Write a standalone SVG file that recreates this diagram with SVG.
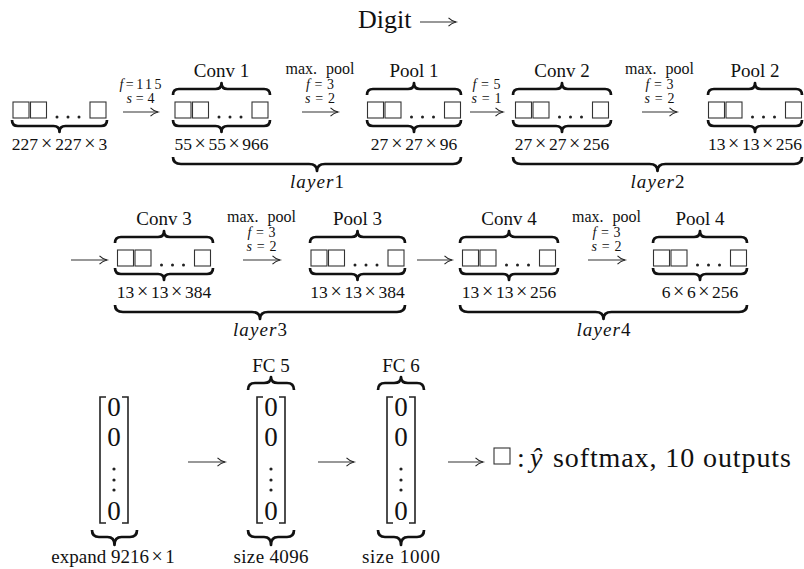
<svg xmlns="http://www.w3.org/2000/svg" xmlns:xlink="http://www.w3.org/1999/xlink" width="804" height="569" viewBox="0 0 804 569">
<style>
.t{font-family:"Liberation Serif","Times New Roman",serif;fill:#111}
.mid{text-anchor:middle}
.big{font-size:27px}
.lbl{font-size:19px}
.dim{font-size:17.5px}
.x{font-size:20px}
.sm{font-size:14px}
.mp{font-size:16px}
.it{font-style:italic}
.up{font-style:normal}
.br{fill:none;stroke:#111;stroke-width:2.7;stroke-linejoin:round;stroke-linecap:butt}
.sq{fill:none;stroke:#333;stroke-width:1.1}
.dot{fill:#222}
.bk{fill:none;stroke:#222;stroke-width:1.6}
.ar{fill:none;stroke:#333;stroke-width:1.1;marker-end:url(#ah)}
</style>
<defs>
<marker id="ah" markerUnits="userSpaceOnUse" viewBox="-9 -6 10 12" refX="0" refY="0" markerWidth="10" markerHeight="12" orient="auto" overflow="visible">
<path d="M-7.5,-4.2 C-4.5,-1.2 -1.5,-0.4 0,0 C-1.5,0.4 -4.5,1.2 -7.5,4.2" fill="none" stroke="#222" stroke-width="1.1"/>
</marker>
<g id="sq">
<rect class="sq" x="0" y="0" width="16" height="16"/>
<rect class="sq" x="17.5" y="0" width="16" height="16"/>
<circle class="dot" cx="44" cy="15" r="1.5"/>
<circle class="dot" cx="55" cy="15" r="1.5"/>
<circle class="dot" cx="66" cy="15" r="1.5"/>
<rect class="sq" x="77" y="0" width="16" height="16"/>
</g>
<g id="vec">
<path class="bk" d="M6,0 H0 V126 H6 M22,0 H28 V126 H22"/>
<circle class="dot" cx="14" cy="72" r="1.6"/>
<circle class="dot" cx="14" cy="83" r="1.6"/>
<circle class="dot" cx="14" cy="93" r="1.6"/>
</g>
</defs>
<rect width="804" height="569" fill="#fff"/>

<g id="title">
<text class="t" x="358" y="28" style="font-size:26px">Digit</text>
</g>

<!-- Row 1 -->
<g id="input">
<use href="#sq" x="13" y="102"/>
<path class="br" d="M12,120 Q12,126 18,126 H53.5 Q59.5,126 59.5,132 Q59.5,126 65.5,126 H101 Q107,126 107,120"/>
<text class="t dim mid" x="59.5" y="150">227<tspan class="x" dx="2.9">×</tspan><tspan dx="2.9">227</tspan><tspan class="x" dx="2.9">×</tspan><tspan dx="2.9">3</tspan></text>
</g>
<g id="conv1">
<text class="t lbl mid" x="221.5" y="77">Conv 1</text>
<path class="br" d="M173,95 Q173,89 179,89 H215.5 Q221.5,89 221.5,83 Q221.5,89 227.5,89 H264 Q270,89 270,95"/>
<use href="#sq" x="175" y="102"/>
<path class="br" d="M173,120 Q173,126 179,126 H215.5 Q221.5,126 221.5,132 Q221.5,126 227.5,126 H264 Q270,126 270,120"/>
<text class="t dim mid" x="221.5" y="150">55<tspan class="x" dx="2.5">×</tspan><tspan dx="2.5">55</tspan><tspan class="x" dx="2.5">×</tspan><tspan dx="2.5">966</tspan></text>
</g>
<g id="pool1">
<text class="t lbl mid" x="414" y="77">Pool 1</text>
<path class="br" d="M367,95 Q367,89 373,89 H408 Q414,89 414,83 Q414,89 420,89 H455 Q461,89 461,95"/>
<use href="#sq" x="367.5" y="102"/>
<path class="br" d="M367,120 Q367,126 373,126 H408 Q414,126 414,132 Q414,126 420,126 H455 Q461,126 461,120"/>
<text class="t dim mid" x="414" y="150">27<tspan class="x" dx="2.8">×</tspan><tspan dx="2.8">27</tspan><tspan class="x" dx="2.8">×</tspan><tspan dx="2.8">96</tspan></text>
</g>
<g id="conv2">
<text class="t lbl mid" x="562" y="77">Conv 2</text>
<path class="br" d="M513,95 Q513,89 519,89 H556 Q562,89 562,83 Q562,89 568,89 H605 Q611,89 611,95"/>
<use href="#sq" x="515.5" y="102"/>
<path class="br" d="M513,120 Q513,126 519,126 H556 Q562,126 562,132 Q562,126 568,126 H605 Q611,126 611,120"/>
<text class="t dim mid" x="562" y="150">27<tspan class="x" dx="2.7">×</tspan><tspan dx="2.7">27</tspan><tspan class="x" dx="2.7">×</tspan><tspan dx="2.7">256</tspan></text>
</g>
<g id="pool2">
<text class="t lbl mid" x="755" y="77">Pool 2</text>
<path class="br" d="M708,95 Q708,89 714,89 H749 Q755,89 755,83 Q755,89 761,89 H796 Q802,89 802,95"/>
<use href="#sq" x="708.5" y="102"/>
<path class="br" d="M708,120 Q708,126 714,126 H749 Q755,126 755,132 Q755,126 761,126 H796 Q802,126 802,120"/>
<text class="t dim mid" x="755" y="150">13<tspan class="x" dx="2.5">×</tspan><tspan dx="2.5">13</tspan><tspan class="x" dx="2.5">×</tspan><tspan dx="2.5">256</tspan></text>
</g>
<g id="layer1">
<path class="br" d="M173,157 Q173,164 181,164 H309 Q317,164 317,171 Q317,164 325,164 H453 Q461,164 461,157"/>
<text class="t lbl mid it" x="317" y="188" textLength="54" lengthAdjust="spacing">layer<tspan class="up">1</tspan></text>
</g>
<g id="layer2">
<path class="br" d="M513,157 Q513,164 521,164 H649.5 Q657.5,164 657.5,171 Q657.5,164 665.5,164 H794 Q802,164 802,157"/>
<text class="t lbl mid it" x="657.5" y="188" textLength="54" lengthAdjust="spacing">layer<tspan class="up">2</tspan></text>
</g>

<!-- Row 2 -->
<g id="conv3">
<text class="t lbl mid" x="164" y="225">Conv 3</text>
<path class="br" d="M115,243 Q115,237 121,237 H158 Q164,237 164,231 Q164,237 170,237 H207 Q213,237 213,243"/>
<use href="#sq" x="117.5" y="250"/>
<path class="br" d="M115,268 Q115,274 121,274 H158 Q164,274 164,280 Q164,274 170,274 H207 Q213,274 213,268"/>
<text class="t dim mid" x="164" y="298">13<tspan class="x" dx="2.7">×</tspan><tspan dx="2.7">13</tspan><tspan class="x" dx="2.7">×</tspan><tspan dx="2.7">384</tspan></text>
</g>
<g id="pool3">
<text class="t lbl mid" x="357.5" y="225">Pool 3</text>
<path class="br" d="M310,243 Q310,237 316,237 H351.5 Q357.5,237 357.5,231 Q357.5,237 363.5,237 H399 Q405,237 405,243"/>
<use href="#sq" x="311" y="250"/>
<path class="br" d="M310,268 Q310,274 316,274 H351.5 Q357.5,274 357.5,280 Q357.5,274 363.5,274 H399 Q405,274 405,268"/>
<text class="t dim mid" x="357.5" y="298">13<tspan class="x" dx="2.7">×</tspan><tspan dx="2.7">13</tspan><tspan class="x" dx="2.7">×</tspan><tspan dx="2.7">384</tspan></text>
</g>
<g id="conv4">
<text class="t lbl mid" x="509" y="225">Conv 4</text>
<path class="br" d="M460,243 Q460,237 466,237 H503 Q509,237 509,231 Q509,237 515,237 H552 Q558,237 558,243"/>
<use href="#sq" x="462.5" y="250"/>
<path class="br" d="M460,268 Q460,274 466,274 H503 Q509,274 509,280 Q509,274 515,274 H552 Q558,274 558,268"/>
<text class="t dim mid" x="509" y="298">13<tspan class="x" dx="2.7">×</tspan><tspan dx="2.7">13</tspan><tspan class="x" dx="2.7">×</tspan><tspan dx="2.7">256</tspan></text>
</g>
<g id="pool4">
<text class="t lbl mid" x="700" y="225">Pool 4</text>
<path class="br" d="M653,243 Q653,237 659,237 H694 Q700,237 700,231 Q700,237 706,237 H741 Q747,237 747,243"/>
<use href="#sq" x="653.5" y="250"/>
<path class="br" d="M653,268 Q653,274 659,274 H694 Q700,274 700,280 Q700,274 706,274 H741 Q747,274 747,268"/>
<text class="t dim mid" x="700" y="298">6<tspan class="x" dx="2.6">×</tspan><tspan dx="2.6">6</tspan><tspan class="x" dx="2.6">×</tspan><tspan dx="2.6">256</tspan></text>
</g>
<g id="layer3">
<path class="br" d="M115,305 Q115,312 123,312 H252 Q260,312 260,319 Q260,312 268,312 H397 Q405,312 405,305"/>
<text class="t lbl mid it" x="260" y="336" textLength="54" lengthAdjust="spacing">layer<tspan class="up">3</tspan></text>
</g>
<g id="layer4">
<path class="br" d="M460,305 Q460,312 468,312 H595.5 Q603.5,312 603.5,319 Q603.5,312 611.5,312 H739 Q747,312 747,305"/>
<text class="t lbl mid it" x="603.5" y="336" textLength="54" lengthAdjust="spacing">layer<tspan class="up">4</tspan></text>
</g>

<!-- Row 3 -->
<g id="flatten">
<use href="#vec" x="100" y="397"/>
<text class="t big mid" x="114" y="416">0</text>
<text class="t big mid" x="114" y="446">0</text>
<text class="t big mid" x="114" y="520">0</text>
<path class="br" d="M92,530 Q92,537 99,537 H107.5 Q114.5,537 114.5,545 Q114.5,537 121.5,537 H130 Q137,537 137,530"/>
<text class="t lbl mid" x="113" y="563">expand 9216<tspan class="x" dx="2.5">×</tspan><tspan dx="2.5">1</tspan></text>
</g>
<g id="fc5">
<text class="t lbl mid" x="271" y="372">FC 5</text>
<path class="br" d="M248,390 Q248,383 255,383 H264 Q271,383 271,377 Q271,383 278,383 H287 Q294,383 294,390"/>
<use href="#vec" x="257" y="397"/>
<text class="t big mid" x="271" y="416">0</text>
<text class="t big mid" x="271" y="446">0</text>
<text class="t big mid" x="271" y="520">0</text>
<path class="br" d="M248,530 Q248,537 255,537 H264 Q271,537 271,545 Q271,537 278,537 H287 Q294,537 294,530"/>
<text class="t lbl mid" x="271" y="563" textLength="75" lengthAdjust="spacing">size 4096</text>
</g>
<g id="fc6">
<text class="t lbl mid" x="401" y="372">FC 6</text>
<path class="br" d="M378,390 Q378,383 385,383 H394 Q401,383 401,377 Q401,383 408,383 H417 Q424,383 424,390"/>
<use href="#vec" x="387" y="397"/>
<text class="t big mid" x="401" y="416">0</text>
<text class="t big mid" x="401" y="446">0</text>
<text class="t big mid" x="401" y="520">0</text>
<path class="br" d="M378,530 Q378,537 385,537 H394 Q401,537 401,545 Q401,537 408,537 H417 Q424,537 424,530"/>
<text class="t lbl mid" x="401" y="563" textLength="78" lengthAdjust="spacing">size 1000</text>
</g>
<g id="output">
<rect class="sq" x="494" y="448" width="16" height="16"/>
<text class="t" y="467" style="font-size:28px"><tspan x="517">:</tspan><tspan x="530" class="it">ŷ</tspan><tspan x="553" style="letter-spacing:0.9px">softmax, 10 outputs</tspan></text>
</g>

<g id="connectors">
<path class="ar" d="M420,22 H456"/>
<path class="ar" d="M123,112 H158"/>
<text class="t sm mid" x="140.5" y="89" textLength="42" lengthAdjust="spacing"><tspan class="it">f</tspan>=115</text>
<text class="t sm mid" x="140.5" y="103" textLength="28" lengthAdjust="spacing"><tspan class="it">s</tspan>=4</text>
<path class="ar" d="M302,112 H338"/>
<text class="t mp mid" x="320" y="74">max.<tspan dx="9">pool</tspan></text>
<text class="t sm mid" x="320" y="89" textLength="28" lengthAdjust="spacing"><tspan class="it">f</tspan>=3</text>
<text class="t sm mid" x="320" y="103" textLength="30" lengthAdjust="spacing"><tspan class="it">s</tspan>=2</text>
<path class="ar" d="M470,112 H503"/>
<text class="t sm mid" x="486.5" y="89" textLength="28" lengthAdjust="spacing"><tspan class="it">f</tspan>=5</text>
<text class="t sm mid" x="486.5" y="103" textLength="30" lengthAdjust="spacing"><tspan class="it">s</tspan>=1</text>
<path class="ar" d="M642,112 H677"/>
<text class="t mp mid" x="659.5" y="74">max.<tspan dx="9">pool</tspan></text>
<text class="t sm mid" x="659.5" y="89" textLength="28" lengthAdjust="spacing"><tspan class="it">f</tspan>=3</text>
<text class="t sm mid" x="659.5" y="103" textLength="30" lengthAdjust="spacing"><tspan class="it">s</tspan>=2</text>
<path class="ar" d="M71,260 H107"/>
<path class="ar" d="M243,260 H280"/>
<text class="t mp mid" x="261.5" y="222">max.<tspan dx="9">pool</tspan></text>
<text class="t sm mid" x="261.5" y="237" textLength="28" lengthAdjust="spacing"><tspan class="it">f</tspan>=3</text>
<text class="t sm mid" x="261.5" y="251" textLength="30" lengthAdjust="spacing"><tspan class="it">s</tspan>=2</text>
<path class="ar" d="M417,260 H452"/>
<path class="ar" d="M588,260 H625"/>
<text class="t mp mid" x="606.5" y="222">max.<tspan dx="9">pool</tspan></text>
<text class="t sm mid" x="606.5" y="237" textLength="28" lengthAdjust="spacing"><tspan class="it">f</tspan>=3</text>
<text class="t sm mid" x="606.5" y="251" textLength="30" lengthAdjust="spacing"><tspan class="it">s</tspan>=2</text>
<path class="ar" d="M188,462 H225"/>
<path class="ar" d="M318,462 H354"/>
<path class="ar" d="M448,462 H483"/>
</g>
</svg>
